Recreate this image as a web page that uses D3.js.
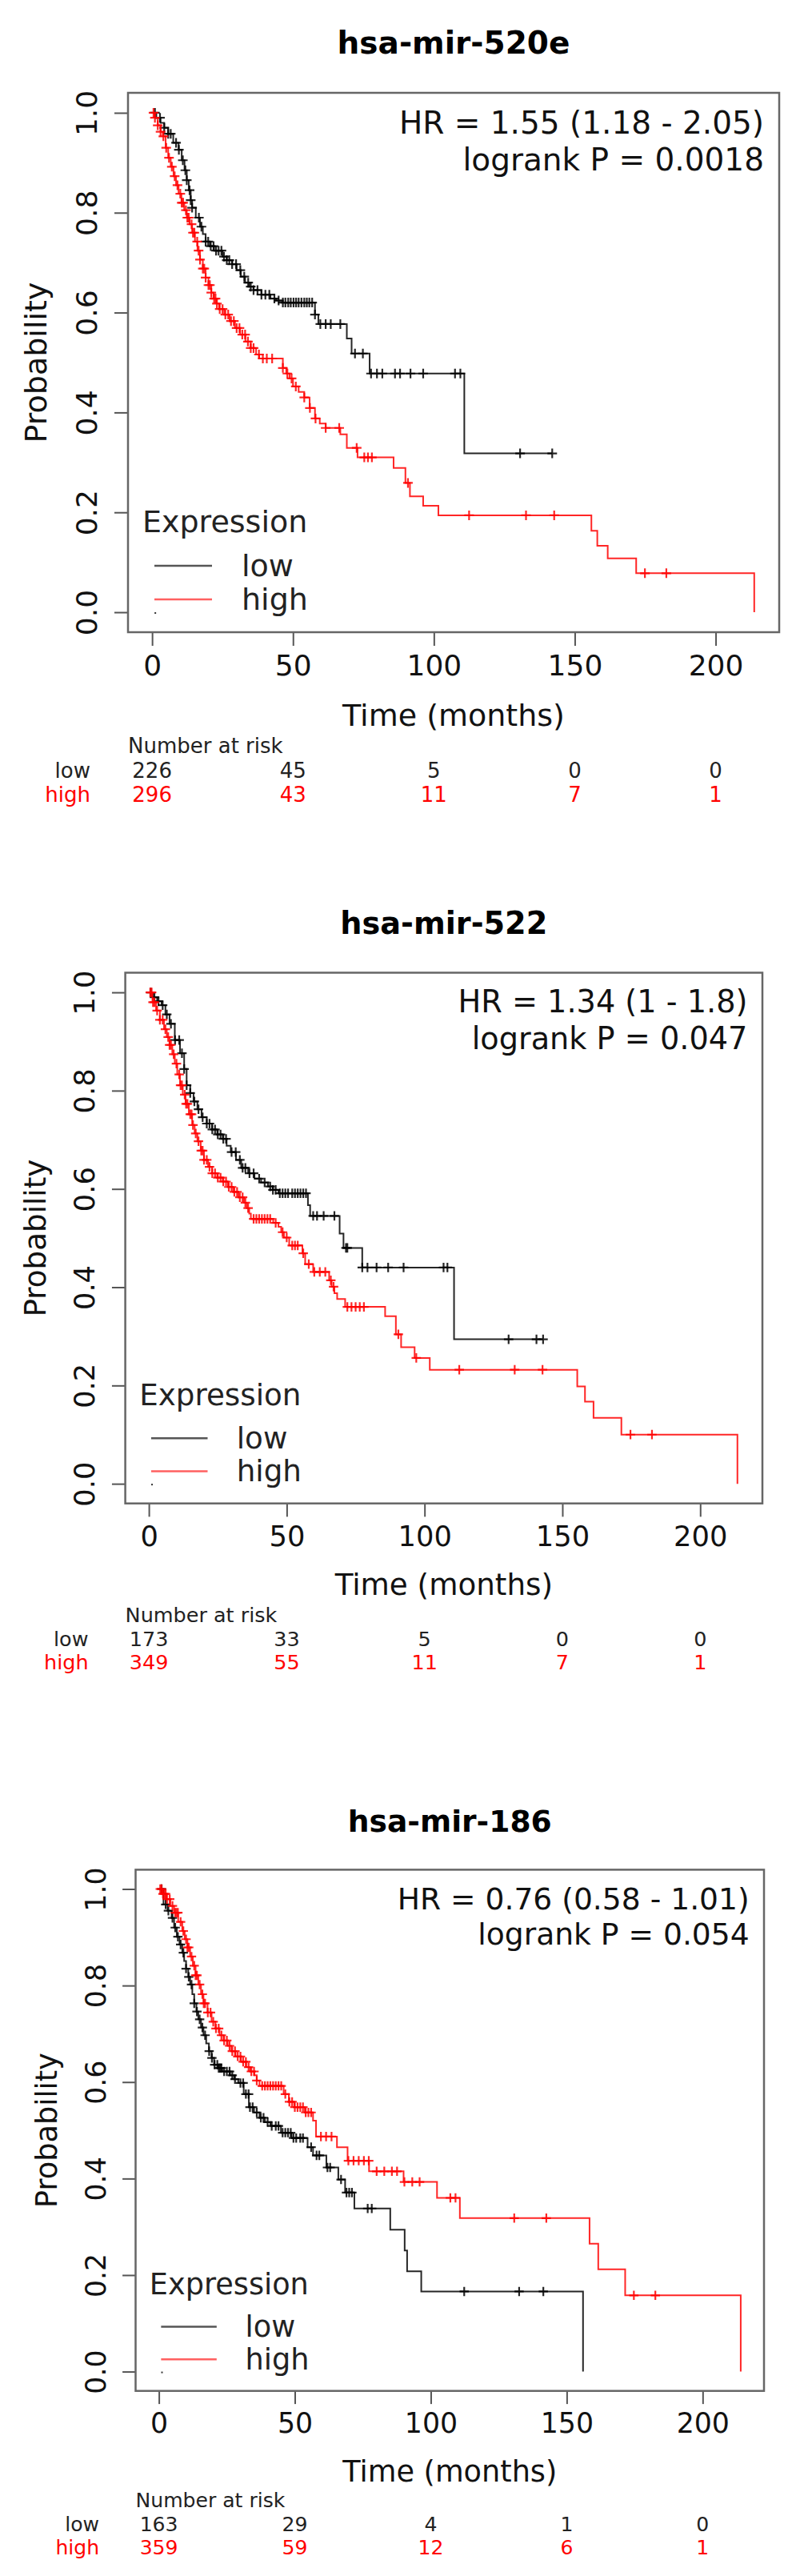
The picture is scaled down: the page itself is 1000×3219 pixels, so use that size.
<!DOCTYPE html>
<html>
<head>
<meta charset="utf-8">
<script src="https://cdn.jsdelivr.net/npm/d3@7"></script>
<style>
  body { margin: 0; background: #fff; }
</style>
</head>
<body>
<script>

// ---- text and tables ----
var titles = ["hsa-mir-520e", "hsa-mir-522", "hsa-mir-186"];
var hrLines = ["HR = 1.55 (1.18 - 2.05)", "HR = 1.34 (1 - 1.8)", "HR = 0.76 (0.58 - 1.01)"];
var pLines = ["logrank P = 0.0018", "logrank P = 0.047", "logrank P = 0.054"];
var xTicks = [0, 50, 100, 150, 200];
var yTicks = [0, 0.2, 0.4, 0.6, 0.8, 1.0];
var groups = ["low", "high"];
var riskLow = [[226, 45, 5, 0, 0], [173, 33, 5, 0, 0], [163, 29, 4, 1, 0]];
var riskHigh = [[296, 43, 11, 7, 1], [349, 55, 11, 7, 1], [359, 59, 12, 6, 1]];

// ---- hsa-mir-520e ----
var p1LowT = [1.5, 3, 4.3, 5.7, 7.5, 9.4, 10.5, 11.5, 12.3, 13, 13.7, 14.2, 15.5, 17, 18, 19, 20.5, 22, 25, 26.5, 28.4, 30, 31.5, 33, 34.5, 36, 38.8, 42, 44, 46.4, 57.8, 59, 69.1, 70.8, 77.2, 110.8];
var p1LowS = [0.99, 0.98, 0.97, 0.958, 0.94, 0.926, 0.905, 0.885, 0.865, 0.845, 0.825, 0.81, 0.79, 0.772, 0.757, 0.742, 0.733, 0.724, 0.712, 0.705, 0.697, 0.685, 0.672, 0.66, 0.652, 0.645, 0.636, 0.628, 0.624, 0.62, 0.596, 0.577, 0.548, 0.518, 0.478, 0.318];
var p1LowCens = [1, 2.8, 4.3, 5.7, 6.6, 8.5, 9.5, 10.9, 11.8, 12.3, 13.3, 13.7, 14.2, 16.6, 17.5, 19, 19.9, 20.8, 21.8, 22.7, 23.6, 24.6, 25.5, 26.5, 27.4, 28.4, 29.8, 31.3, 32.7, 34.1, 35, 36, 37.4, 38.8, 40.2, 41.6, 43.4, 44.9, 46.4, 47.3, 48.3, 49.2, 50.2, 51.1, 52, 53, 54, 54.9, 55.8, 56.8, 57.8, 59.7, 61.6, 63.4, 66.8, 72, 74.8, 77.7, 79.8, 81.7, 86.2, 88, 91.7, 96.2, 107.5, 109.4, 130.6, 142];
var p1LowEnd = 142;
var p1HighT = [1, 2, 3, 3.8, 4.8, 5.7, 6.6, 7.6, 8.5, 9.4, 10.4, 11.4, 12.3, 13.3, 14.2, 15.2, 16.1, 17, 18, 19, 20, 21, 21.8, 22.8, 23.8, 25.6, 27.5, 29.4, 31.2, 33.1, 35, 36.9, 38, 46.4, 47.6, 48.8, 50, 52, 54, 55.9, 57.8, 59.5, 61.6, 66.8, 69.1, 72.9, 85.7, 89.9, 91.5, 96.2, 101.6, 155.9, 158, 161.7, 171.8, 213.7];
var p1HighS = [0.99, 0.975, 0.962, 0.953, 0.93, 0.91, 0.892, 0.873, 0.855, 0.838, 0.82, 0.805, 0.79, 0.777, 0.76, 0.742, 0.724, 0.706, 0.688, 0.67, 0.655, 0.64, 0.628, 0.618, 0.607, 0.596, 0.583, 0.569, 0.556, 0.542, 0.529, 0.516, 0.508, 0.489, 0.478, 0.468, 0.452, 0.441, 0.43, 0.409, 0.388, 0.378, 0.369, 0.356, 0.329, 0.31, 0.289, 0.259, 0.232, 0.213, 0.194, 0.163, 0.133, 0.108, 0.078, 0];
var p1HighCens = [0.5, 1, 2, 3, 4, 5, 6, 7, 8, 9, 10, 10.5, 11, 12, 12.5, 13, 14, 14.5, 15, 16, 16.5, 17, 18, 18.5, 19, 20, 20.5, 21, 22, 22.5, 23, 24, 25, 26, 27, 28, 29, 30, 31, 32, 33, 34, 35, 36, 37.9, 39.3, 40.7, 42.6, 46.4, 48, 49.5, 51, 54, 56, 58, 61.6, 66.4, 72.6, 75.3, 76.6, 78, 90.8, 112.5, 132.7, 142.7, 174.9, 182.5];
var p1HighEnd = 213.7;

// ---- hsa-mir-522 ----
var p2LowT = [1.5, 3, 4.6, 6, 7.5, 9.4, 11.3, 12.8, 13.7, 15, 16.2, 17.6, 19.1, 21, 22.9, 24.8, 26.8, 28.2, 29.7, 31.6, 33.5, 36, 38.3, 40.7, 43.2, 45, 47, 57.7, 58.5, 69.2, 70.6, 77.4, 110.7];
var p2LowS = [0.99, 0.982, 0.974, 0.955, 0.936, 0.903, 0.876, 0.844, 0.811, 0.795, 0.778, 0.762, 0.746, 0.733, 0.721, 0.711, 0.702, 0.688, 0.675, 0.659, 0.643, 0.632, 0.621, 0.613, 0.605, 0.598, 0.591, 0.567, 0.545, 0.509, 0.48, 0.44, 0.294];
var p2LowCens = [0.7, 2, 3.5, 5, 6.5, 8, 9.5, 11, 12, 12.8, 13.7, 15, 16.5, 18, 19.5, 21, 22, 23, 24, 25, 26, 27, 28, 30, 31.5, 33, 34, 35, 36.5, 38, 40, 42, 44, 45, 46, 47.5, 48.5, 49.5, 50.5, 52, 53, 54, 55, 56, 57, 59.6, 61, 63.4, 67.3, 71.5, 72, 77.4, 79.3, 82.6, 86.8, 92.4, 106.9, 108.3, 130.5, 140.6, 143];
var p2LowEnd = 143;
var p2HighT = [1.3, 2.6, 4, 5.5, 6.5, 7.5, 8.5, 9.4, 10.3, 11.3, 12.3, 13.3, 14.5, 15.7, 16.6, 17.6, 18.8, 20, 21.5, 22.9, 24.8, 26.8, 28.7, 30.6, 32.5, 34.5, 35.5, 36.4, 37, 45.1, 47, 48, 49, 50.9, 55.7, 56.7, 59.6, 65.4, 66.3, 67.3, 68.3, 71.2, 85.7, 89.6, 91.5, 96.4, 101.9, 155.4, 158.2, 161.3, 171.4, 213.5];
var p2HighS = [0.98, 0.963, 0.944, 0.925, 0.909, 0.893, 0.874, 0.855, 0.833, 0.811, 0.792, 0.773, 0.752, 0.73, 0.713, 0.697, 0.678, 0.659, 0.645, 0.632, 0.623, 0.615, 0.604, 0.594, 0.583, 0.572, 0.561, 0.55, 0.539, 0.531, 0.523, 0.512, 0.501, 0.485, 0.469, 0.447, 0.431, 0.414, 0.401, 0.388, 0.376, 0.36, 0.341, 0.304, 0.278, 0.256, 0.232, 0.198, 0.167, 0.134, 0.1, 0];
var p2HighCens = [0.5, 1, 1.5, 2, 3, 4, 5, 6, 7, 7.5, 8, 9, 10, 11, 11.5, 12, 13, 13.5, 14, 15, 15.5, 16, 17, 18, 19, 19.5, 20, 21, 22, 23, 24, 25, 26, 27, 28, 29, 30, 31, 32, 33, 34, 35, 36, 38, 39, 40, 41, 42, 43, 44, 46, 48.5, 50, 52, 53, 54, 56, 58, 60, 62, 64, 66, 67, 72, 73.5, 75, 76.5, 78, 90.5, 97, 112.6, 132.7, 142.8, 174.7, 182.5];
var p2HighEnd = 213.5;

// ---- hsa-mir-186 ----
var p3LowT = [1.7, 3.2, 4.7, 5.6, 6.6, 7.6, 8.6, 9.3, 10, 10.8, 11.5, 12.3, 13, 13.8, 14.5, 15.5, 16.4, 17.4, 18.4, 19.4, 20.3, 21.8, 23.3, 26.2, 27.7, 29.2, 31.2, 33.1, 35, 37, 39, 41, 44.9, 48.8, 54.7, 56.7, 61.6, 66, 68.5, 71.9, 85.1, 90.4, 91.3, 96.5, 156];
var p3LowS = [0.968, 0.955, 0.94, 0.92, 0.901, 0.885, 0.868, 0.851, 0.835, 0.818, 0.802, 0.782, 0.763, 0.746, 0.73, 0.713, 0.697, 0.68, 0.664, 0.65, 0.636, 0.629, 0.622, 0.614, 0.606, 0.598, 0.575, 0.548, 0.537, 0.526, 0.517, 0.509, 0.495, 0.484, 0.465, 0.448, 0.423, 0.398, 0.371, 0.338, 0.294, 0.251, 0.208, 0.166, 0];
var p3LowCens = [1, 2.5, 3.5, 5, 6, 7, 8, 9, 10, 11, 12, 13, 14, 15, 16, 17, 18.5, 19.5, 20.5, 21.5, 22, 22.5, 23, 24, 25, 26, 27, 28, 30, 31, 32, 33, 33.5, 34.5, 36, 37.5, 38.5, 40, 41.5, 43, 44, 45.5, 46.5, 47.5, 48.5, 49.5, 50.5, 52, 53, 56, 58, 59, 62, 63, 67, 69, 70, 71, 76.8, 78.3, 112.3, 132.5, 141.4];
var p3LowEnd = 156;
var p3HighT = [1.3, 2.7, 4.2, 5.6, 7.1, 8.6, 9.5, 10.5, 11.5, 12.5, 13.5, 14.5, 15.5, 16.4, 17.9, 19.4, 20.8, 22.3, 23.8, 25.3, 26.7, 28.2, 30.2, 32.1, 33.6, 35.1, 36, 37, 45.9, 47.8, 49.8, 53.7, 56.7, 57.8, 65.5, 69.4, 77.3, 90, 102.3, 110.7, 158.4, 161.6, 171.5, 214];
var p3HighS = [0.99, 0.979, 0.965, 0.951, 0.932, 0.913, 0.896, 0.879, 0.86, 0.841, 0.821, 0.802, 0.782, 0.763, 0.744, 0.725, 0.711, 0.697, 0.686, 0.675, 0.664, 0.653, 0.642, 0.631, 0.622, 0.614, 0.603, 0.592, 0.575, 0.559, 0.548, 0.537, 0.52, 0.487, 0.465, 0.437, 0.415, 0.393, 0.36, 0.318, 0.265, 0.212, 0.158, 0];
var p3HighCens = [0.5, 1, 1.5, 2, 2.5, 3, 4, 5, 6, 6.5, 7, 8, 9, 10, 10.5, 11, 12, 13, 13.5, 14, 15, 16, 16.5, 17, 18, 19, 20, 21, 22, 23, 24, 25, 26, 27, 28, 29, 30, 31, 32, 33, 34, 35, 36, 38, 39, 40, 41, 42, 43, 44, 45, 46.5, 48, 49, 50, 51, 52, 53, 54, 55, 56, 59.6, 61.5, 63.5, 69.7, 71.6, 73.5, 75.4, 77.2, 80.1, 82.9, 85.7, 87.6, 90.3, 93.2, 95.9, 107.2, 109.1, 130.7, 142.5, 174.7, 182.6];
var p3HighEnd = 214;

var series = [
  [{t: p1LowT, s: p1LowS, cens: p1LowCens, end: p1LowEnd}, {t: p1HighT, s: p1HighS, cens: p1HighCens, end: p1HighEnd}],
  [{t: p2LowT, s: p2LowS, cens: p2LowCens, end: p2LowEnd}, {t: p2HighT, s: p2HighS, cens: p2HighCens, end: p2HighEnd}],
  [{t: p3LowT, s: p3LowS, cens: p3LowCens, end: p3LowEnd}, {t: p3HighT, s: p3HighS, cens: p3HighCens, end: p3HighEnd}]
];

// plot boxes of the three panels (pixels) and their text scale
var boxes = [
  {x0: 160, x1: 974, y0: 116, y1: 790, k: 1},
  {x0: 156.6, x1: 953, y0: 1215.5, y1: 1878.7, k: 0.98},
  {x0: 169.5, x1: 955, y0: 2336.4, y1: 2987.7, k: 0.965}
];
var colors = ["#000000", "#ff0000"];
var font = "DejaVu Sans";

var svg = d3.select("body").append("svg")
    .attr("width", 1000)
    .attr("height", 3219)
    .style("display", "block")
    .style("background", "#fff");

function survAt(d, time) {
  var v = 1;
  for (var i = 0; i < d.t.length; i++) {
    if (d.t[i] <= time) v = d.s[i]; else break;
  }
  return v;
}

function stepPoints(d) {
  var pts = [[0, 1]];
  d.t.forEach(function(t, i) { pts.push([t, d.s[i]]); });
  var last = pts[pts.length - 1];
  if (d.end > last[0]) pts.push([d.end, last[1]]);
  return pts;
}

boxes.forEach(function(b, p) {
  var k = b.k;
  var x = d3.scaleLinear().domain([-8.56, 222.56]).range([b.x0, b.x1]);
  var y = d3.scaleLinear().domain([-0.04, 1.04]).range([b.y1, b.y0]);
  var g = svg.append("g");
  var cx = (b.x0 + b.x1) / 2;

  // title
  g.append("text")
      .attr("x", cx).attr("y", b.y0 - 49 * k)
      .attr("text-anchor", "middle")
      .attr("font-family", font).attr("font-weight", "bold")
      .attr("font-size", 39 * k)
      .text(titles[p]);

  // x axis
  var xa = g.append("g")
      .attr("transform", "translate(0," + b.y1 + ")")
      .call(d3.axisBottom(x).tickValues(xTicks).tickSize(17 * k).tickPadding(11.4 * k));
  xa.select(".domain").remove();
  xa.selectAll("line").attr("stroke", "#555").attr("stroke-width", 2);
  xa.selectAll("text").attr("font-family", font).attr("font-size", 36 * k).attr("fill", "#111");

  // y axis, labels rotated like R's default
  var ya = g.append("g")
      .attr("transform", "translate(" + b.x0 + ",0)")
      .call(d3.axisLeft(y).tickValues(yTicks).tickSize(17 * k).tickFormat(d3.format(".1f")));
  ya.select(".domain").remove();
  ya.selectAll("line").attr("stroke", "#555").attr("stroke-width", 2);
  ya.selectAll("text")
      .attr("x", null).attr("dy", null)
      .attr("transform", "translate(" + (-39 * k) + ",0) rotate(-90)")
      .attr("text-anchor", "middle")
      .attr("font-family", font).attr("font-size", 36 * k).attr("fill", "#111");

  // box
  g.append("rect")
      .attr("x", b.x0).attr("y", b.y0)
      .attr("width", b.x1 - b.x0).attr("height", b.y1 - b.y0)
      .attr("fill", "none").attr("stroke", "#666").attr("stroke-width", 2.5);

  // axis titles
  g.append("text")
      .attr("x", cx).attr("y", b.y1 + 117 * k)
      .attr("text-anchor", "middle")
      .attr("font-family", font).attr("font-size", 38 * k).attr("fill", "#111")
      .text("Time (months)");
  g.append("text")
      .attr("transform", "translate(" + (b.x0 - 102 * k) + "," + ((b.y0 + b.y1) / 2) + ") rotate(-90)")
      .attr("text-anchor", "middle")
      .attr("font-family", font).attr("font-size", 38 * k).attr("fill", "#111")
      .text("Probability");

  // HR / logrank
  g.append("text")
      .attr("x", b.x1 - 19 * k).attr("y", b.y0 + 51 * k)
      .attr("text-anchor", "end")
      .attr("font-family", font).attr("font-size", 39 * k).attr("fill", "#111")
      .text(hrLines[p]);
  g.append("text")
      .attr("x", b.x1 - 19 * k).attr("y", b.y0 + 97 * k)
      .attr("text-anchor", "end")
      .attr("font-family", font).attr("font-size", 39 * k).attr("fill", "#111")
      .text(pLines[p]);

  // curves
  var line = d3.line()
      .x(function(d) { return x(d[0]); })
      .y(function(d) { return y(d[1]); })
      .curve(d3.curveStepAfter);
  var m = 6 * k;
  var mark = "M" + (-m) + ",0H" + m + "M0," + (-m) + "V" + m;

  series[p].forEach(function(d, i) {
    g.append("path")
        .attr("d", line(stepPoints(d)))
        .attr("fill", "none")
        .attr("stroke", colors[i])
        .attr("stroke-opacity", 0.85)
        .attr("stroke-width", 2);
    g.append("g").selectAll("path")
        .data(d.cens)
        .join("path")
        .attr("transform", function(c) { return "translate(" + x(c) + "," + y(survAt(d, c)) + ")"; })
        .attr("d", mark)
        .attr("stroke", colors[i])
        .attr("stroke-opacity", 0.85)
        .attr("stroke-width", 2.2);
  });

  // legend
  var lg = g.append("g");
  lg.append("text")
      .attr("x", b.x0 + 18 * k).attr("y", b.y1 - 125 * k)
      .attr("font-family", font).attr("font-size", 38 * k).attr("fill", "#222")
      .text("Expression");
  groups.forEach(function(name, i) {
    var ly = b.y1 - (83 - 42 * i) * k;
    lg.append("line")
        .attr("x1", b.x0 + 33 * k).attr("x2", b.x0 + 105 * k)
        .attr("y1", ly).attr("y2", ly)
        .attr("stroke", i === 0 ? "#555" : "#ff6060")
        .attr("stroke-width", 2.5);
    lg.append("text")
        .attr("x", b.x0 + 142 * k).attr("y", ly + 13 * k)
        .attr("font-family", font).attr("font-size", 38 * k).attr("fill", "#222")
        .text(name);
  });
  lg.append("rect")
      .attr("x", x(0) + 3 * k).attr("y", y(0))
      .attr("width", 2).attr("height", 2)
      .attr("fill", "#333");

  // number at risk
  g.append("text")
      .attr("x", b.x0).attr("y", b.y1 + 151 * k)
      .attr("font-family", font).attr("font-size", 26 * k).attr("fill", "#222")
      .text("Number at risk");
  [riskLow[p], riskHigh[p]].forEach(function(row, i) {
    var ry = b.y1 + (182 + 30 * i) * k;
    g.append("text")
        .attr("x", b.x0 - 47 * k).attr("y", ry)
        .attr("text-anchor", "end")
        .attr("font-family", font).attr("font-size", 26 * k)
        .attr("fill", i === 0 ? "#222" : "#ff0000")
        .text(groups[i]);
    g.append("g").selectAll("text")
        .data(row)
        .join("text")
        .attr("x", function(v, j) { return x(xTicks[j]); })
        .attr("y", ry)
        .attr("text-anchor", "middle")
        .attr("font-family", font).attr("font-size", 26 * k)
        .attr("fill", i === 0 ? "#222" : "#ff0000")
        .text(function(v) { return v; });
  });
});

</script>
</body>
</html>
